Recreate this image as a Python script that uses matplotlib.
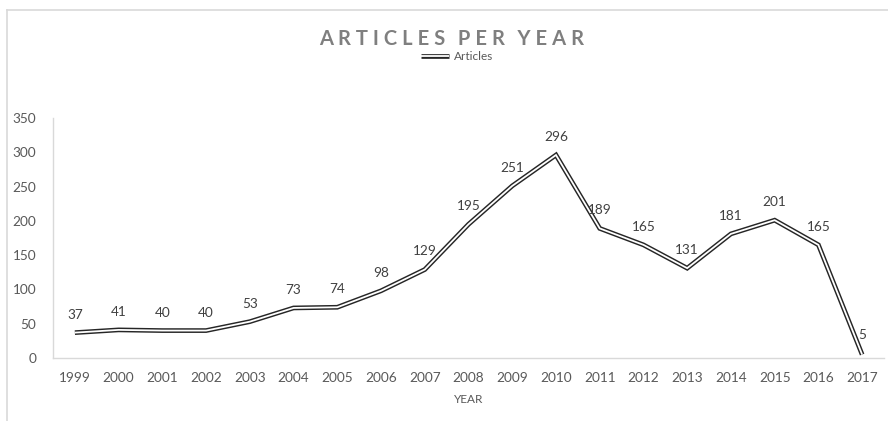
import matplotlib.pyplot as plt
import matplotlib.patheffects as pe
from matplotlib.lines import Line2D

years = ["1999", "2000", "2001", "2002", "2003", "2004", "2005", "2006", "2007",
         "2008", "2009", "2010", "2011", "2012", "2013", "2014", "2015", "2016", "2017"]
articles = [37, 41, 40, 40, 53, 73, 74, 98, 129, 195, 251, 296, 189, 165, 131, 181, 201, 165, 5]
y_ticks = [0, 50, 100, 150, 200, 250, 300, 350]

plt.rcParams["font.family"] = ["Lato", "DejaVu Sans"]

fig = plt.figure(figsize=(8.88, 4.21), dpi=100)
ax = fig.add_axes([53 / 888, 1 - 358 / 421, (884 - 53) / 888, (358 - 118) / 421])

x = list(range(len(years)))
double = [pe.Stroke(linewidth=3.4, foreground="#262626"), pe.Normal()]
line, = ax.plot(x, articles, color="white", lw=1.3, label="Articles",
                solid_capstyle="butt", solid_joinstyle="miter", path_effects=double)

for i, v in enumerate(articles):
    if i == len(articles) - 1:
        ax.annotate(str(v), (i, v), xytext=(0, 14), textcoords="offset points",
                    ha="center", va="center", fontsize=9.8, color="#404040")
    else:
        ax.annotate(str(v), (i, v), xytext=(0, 13), textcoords="offset points",
                    ha="center", va="center", fontsize=9.8, color="#404040")

ax.set_xlim(-0.5, len(years) - 0.5)
ax.set_ylim(0, 350)
ax.set_yticks(y_ticks)
ax.set_xticks(x)
ax.set_xticklabels(years)
ax.tick_params(axis="both", length=0, labelsize=9.8, colors="#595959")
ax.tick_params(axis="y", pad=12)
ax.tick_params(axis="x", pad=10)
ax.set_xlabel("YEAR", fontsize=8.5, color="#595959", labelpad=7)

for side in ["top", "right"]:
    ax.spines[side].set_visible(False)
for side in ["left", "bottom"]:
    ax.spines[side].set_color("#d9d9d9")
    ax.spines[side].set_linewidth(1.0)

sp = "\u2009\u2009"
title = "\u2002\u2009".join(sp.join(w) for w in ["ARTICLES", "PER", "YEAR"])
fig.text(452 / 888, 1 - 39 / 421, title,
         ha="center", va="center", fontsize=14.5, fontweight="bold", color="#7f7f7f")

fig.legend(handles=[line], loc="center", bbox_to_anchor=(457 / 888, 1 - 57 / 421),
           frameon=False, fontsize=8.5, handlelength=2.4, handletextpad=0.35,
           labelcolor="#595959")

# chart frame
fig.add_artist(Line2D([7 / 888, 1], [1 - 10 / 421] * 2, color="#d9d9d9", lw=1.2))
fig.add_artist(Line2D([7 / 888] * 2, [0, 1 - 10 / 421], color="#d9d9d9", lw=1.2))

fig.savefig("out.png", dpi=100)
